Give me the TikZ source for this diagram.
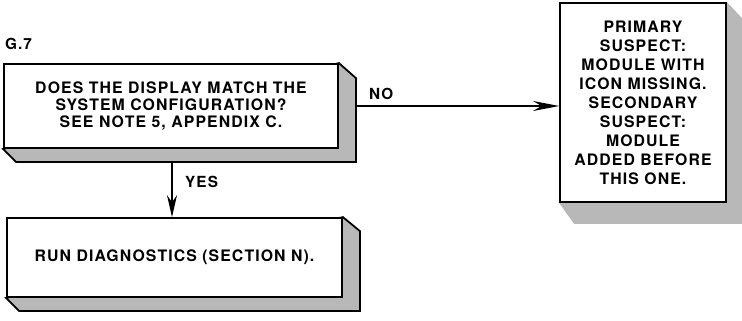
\documentclass[tikz,border=0pt]{standalone}
\usepackage{fontspec}
\setmainfont{TeX Gyre Heros}
\newfontfamily\diafont[LetterSpace=7]{TeX Gyre Heros}
\usetikzlibrary{arrows.meta,calc}
\begin{document}
\begin{tikzpicture}[x=1pt,y=-1pt,
  box/.style={draw=black,line width=1.8pt,fill=white,rectangle,inner sep=0pt,align=center,font=\diafont\bfseries\fontsize{15.8}{17}\selectfont},
  shade/.style={fill=black!28,draw=black,line width=1.8pt,line join=miter},
  softshade/.style={fill=black!28,draw=none},
  conn/.style={line width=1.3pt},
  lbl/.style={font=\diafont\bfseries\fontsize{15.3}{17}\selectfont,inner sep=0pt}]
\useasboundingbox (0,0) rectangle (742,321);
\node[lbl,anchor=west] (title) at (5,44) {G.7};
% box 1
\node[box,minimum width=334pt,minimum height=84pt] (b1) at (171,106) {};
\filldraw[shade] (b1.north east) -- ++(17,15) -- ($(b1.south east)+(17,13)$) -- ($(b1.south west)+(13,13)$) -- (b1.south west) -- cycle;
\node[box,minimum width=334pt,minimum height=84pt] (b1f) at (171,106) {DOES THE DISPLAY MATCH THE\\SYSTEM CONFIGURATION?\\SEE NOTE 5, APPENDIX C.};
% box 2
\node[box,minimum width=335pt,minimum height=79pt] (b2) at (174.5,257.5) {};
\filldraw[shade] (b2.north east) -- ++(17,14) -- ($(b2.south east)+(17,13)$) -- ($(b2.south west)+(13,13)$) -- (b2.south west) -- cycle;
\node[box,minimum width=335pt,minimum height=79pt] (b2f) at (174.5,257.5) {RUN DIAGNOSTICS (SECTION N).};
% box 3
\node[box,minimum width=166pt,minimum height=199pt] (b3) at (643,102.5) {};
\fill[softshade] (b3.north east) -- ++(16,17) -- ($(b3.south east)+(16,21)$) -- ($(b3.south west)+(15,21)$) -- (b3.south west) -- cycle;
\node[box,minimum width=166pt,minimum height=199pt,font=\diafont\bfseries\fontsize{15.8}{19}\selectfont] (b3f) at (643,102.5) {PRIMARY\\SUSPECT:\\MODULE WITH\\ICON MISSING.\\SECONDARY\\SUSPECT:\\MODULE\\ADDED BEFORE\\THIS ONE.};
% connectors
\coordinate (noS) at ($(b1f.east)+(17,0)$);
\draw[conn,-{Stealth[length=26pt,width=10pt]}] (noS) -- (b3f.west |- noS);
\node[lbl,anchor=south west] (no) at ($(noS)+(13,-6)$) {NO};
\coordinate (yesS) at ($(b1f.south)+(1,13)$);
\draw[conn,-{Stealth[length=22pt,width=10pt]}] (yesS) -- (yesS |- b2f.north);
\node[lbl,anchor=west] (yes) at ($(yesS)+(13,20)$) {YES};
\end{tikzpicture}
\end{document}
